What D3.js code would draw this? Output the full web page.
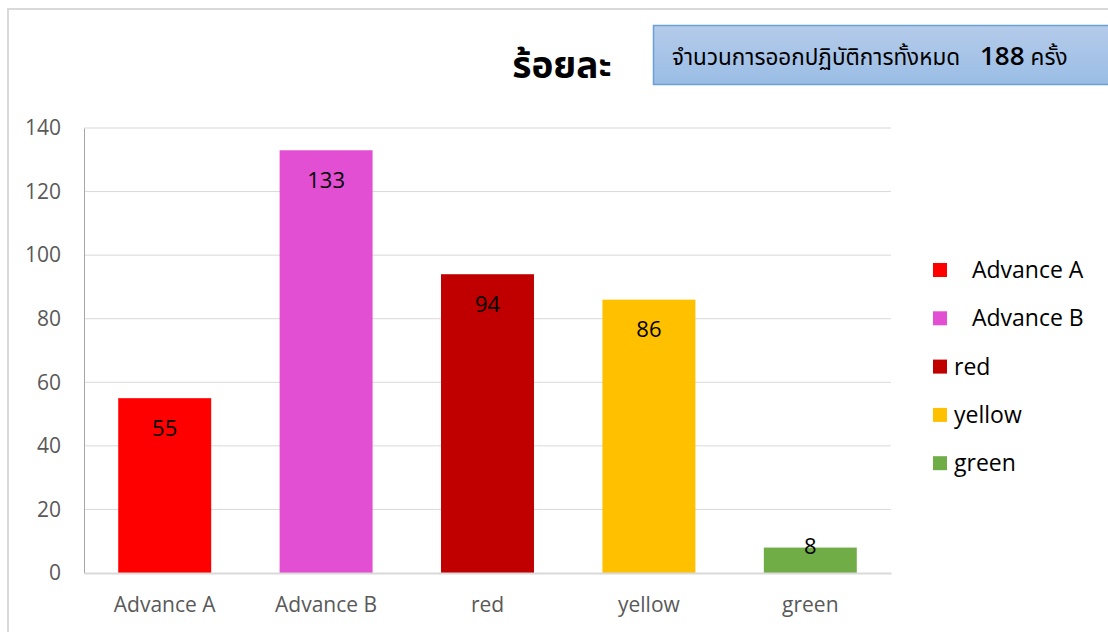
<!DOCTYPE html>
<html>
<head>
<meta charset="utf-8">
<script src="https://cdn.jsdelivr.net/npm/d3@7"></script>
<style>
  body { margin: 0; background: #fff; }
  svg { display: block; font-family: "Open Sans", "Noto Sans", sans-serif; }
</style>
</head>
<body>
<div id="chart"></div>
<script>
// chart values
var categories = ['Advance A', 'Advance B', 'red', 'yellow', 'green'];
var counts = [55, 133, 94, 86, 8];
var barColors = ['#ff0000', '#e34fd3', '#c00000', '#ffc000', '#70ad47'];
var yTicks = [0, 20, 40, 60, 80, 100, 120, 140];
var legendLabels = ['\u00a0\u00a0 Advance A', '\u00a0\u00a0 Advance B', 'red', 'yellow', 'green'];
var titleText = 'ร้อยละ';
var boxText = 'จำนวนการออกปฏิบัติการทั้งหมด';
var boxTotal = '188';
var boxUnit = 'ครั้ง';

var width = 1108;
var height = 632;
var plotLeft = 84, plotRight = 891, plotTop = 128, plotBottom = 573;

var svg = d3.select('#chart').append('svg')
      .attr('width', width)
      .attr('height', height);

// outer chart frame (only left and top edges visible)
svg.append('path')
      .attr('d', 'M8,632 V9 H1108')
      .attr('fill', 'none')
      .attr('stroke', '#d9d9d9')
      .attr('stroke-width', 2);

var xScale = d3.scaleBand()
      .domain(categories)
      .range([plotLeft, plotRight])
      .paddingInner(0.424)
      .paddingOuter(0.212);

var yScale = d3.scaleLinear()
      .domain([0, 140])
      .range([plotBottom, plotTop]);

// gridlines
svg.append('g')
      .selectAll('line')
      .data(yTicks.slice(1))
      .enter()
      .append('line')
            .attr('x1', plotLeft)
            .attr('x2', plotRight)
            .attr('y1', d => yScale(d))
            .attr('y2', d => yScale(d))
            .attr('stroke', '#d9d9d9')
            .attr('stroke-width', 1);

// y axis
var yAxis = d3.axisLeft(yScale)
      .tickValues(yTicks)
      .tickSize(0)
      .tickPadding(23);

var yAxisG = svg.append('g')
      .attr('transform', 'translate(' + plotLeft + ',0)')
      .call(yAxis);
yAxisG.select('.domain').attr('stroke', '#a6a6a6');
yAxisG.selectAll('text')
      .attr('fill', '#595959')
      .style('font-size', '21px')
      .style('font-family', '"Open Sans", sans-serif');

// bars
svg.append('g')
      .selectAll('rect')
      .data(counts)
      .enter()
      .append('rect')
            .attr('x', (d, i) => xScale(categories[i]))
            .attr('y', d => yScale(d))
            .attr('width', xScale.bandwidth())
            .attr('height', d => yScale(0) - yScale(d))
            .attr('fill', (d, i) => barColors[i]);

// x axis
var xAxis = d3.axisBottom(xScale)
      .tickSize(0)
      .tickPadding(24);

var xAxisG = svg.append('g')
      .attr('transform', 'translate(0,' + plotBottom + ')')
      .call(xAxis);
xAxisG.select('.domain').attr('stroke', '#d9d9d9').attr('stroke-width', 2);
xAxisG.selectAll('text')
      .attr('fill', '#595959')
      .style('font-size', '21px')
      .style('font-family', '"Open Sans", sans-serif');

// value labels inside bar tops
svg.append('g')
      .selectAll('text')
      .data(counts)
      .enter()
      .append('text')
            .attr('x', (d, i) => xScale(categories[i]) + xScale.bandwidth() / 2)
            .attr('y', d => Math.min(yScale(d) + 30, yScale(0) - 27))
            .attr('dy', '0.35em')
            .attr('text-anchor', 'middle')
            .style('font-size', '22px')
            .attr('fill', '#000')
            .text(d => d);

// legend
var legend = svg.append('g')
      .selectAll('g')
      .data(legendLabels)
      .enter()
      .append('g')
            .attr('transform', (d, i) => 'translate(933,' + (270 + i * 48.3) + ')');

legend.append('rect')
      .attr('x', 0)
      .attr('y', -7)
      .attr('width', 14)
      .attr('height', 14)
      .attr('fill', (d, i) => barColors[i]);

legend.append('text')
      .attr('x', 21)
      .attr('dy', '0.35em')
      .style('font-size', '23px')
      .attr('fill', '#000')
      .style('white-space', 'pre')
      .text(d => d);

// title
svg.append('text')
      .attr('x', 562)
      .attr('y', 78)
      .attr('text-anchor', 'middle')
      .style('font-size', '37px')
      .style('font-weight', 'bold')
      .style('font-family', '"Noto Sans Thai", Tahoma, sans-serif')
      .text(titleText);

// info box
var defs = svg.append('defs');
var grad = defs.append('linearGradient')
      .attr('id', 'boxFill')
      .attr('x1', 0).attr('y1', 0)
      .attr('x2', 0).attr('y2', 1);
grad.append('stop').attr('offset', '0%').attr('stop-color', '#b5cbea');
grad.append('stop').attr('offset', '100%').attr('stop-color', '#9abde5');

svg.append('rect')
      .attr('x', 653.5)
      .attr('y', 25.5)
      .attr('width', 470)
      .attr('height', 59)
      .attr('fill', 'url(#boxFill)')
      .attr('stroke', '#6a9fd8')
      .attr('stroke-width', 1.5);

var boxLine = svg.append('text')
      .attr('x', 672)
      .attr('y', 65)
      .style('font-family', '"Noto Sans Thai", Tahoma, sans-serif')
      .attr('fill', '#000');
boxLine.append('tspan')
      .style('font-size', '22.5px')
      .text(boxText);
boxLine.append('tspan')
      .attr('x', 980)
      .style('font-size', '26px')
      .style('font-weight', '600')
      .style('font-family', '"Open Sans", sans-serif')
      .text(boxTotal);
boxLine.append('tspan')
      .attr('dx', 6)
      .style('font-size', '22.5px')
      .text(boxUnit);
</script>
</body>
</html>
